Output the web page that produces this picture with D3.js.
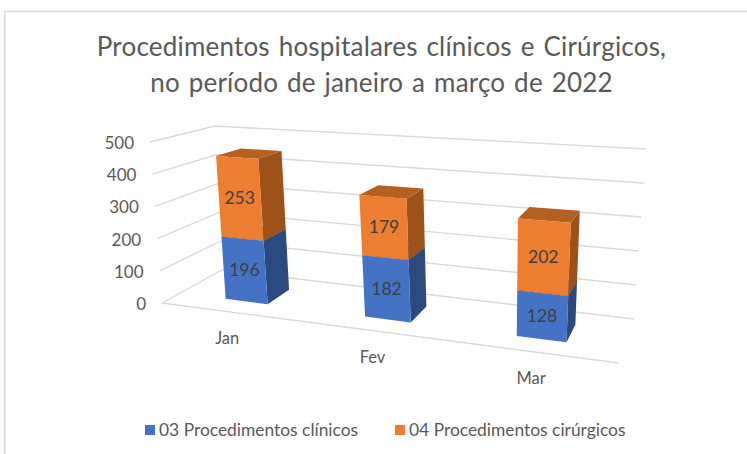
<!DOCTYPE html>
<html><head><meta charset="utf-8">
<script src="https://cdn.jsdelivr.net/npm/d3@7/dist/d3.min.js"></script>
<style>html,body{margin:0;padding:0;background:#fff}svg{display:block}text{font-family:Lato,"Open Sans",sans-serif}</style>
</head><body><svg id="c" width="747" height="454"></svg>
<script>
const titleLines = ["Procedimentos hospitalares clínicos e Cirúrgicos,", "no período de janeiro a março de 2022"];
const months = ["Jan", "Fev", "Mar"];
const clinicos = [196, 182, 128];
const cirurgicos = [253, 179, 202];
const yTicks = [0, 100, 200, 300, 400, 500];
const seriesNames = ["03 Procedimentos clínicos", "04 Procedimentos cirúrgicos"];
const fronts = ["#4472C4", "#ED7D31"], sides = ["#2B4A80", "#9C5219"], tops = ["#34588F", "#B55F20"];

// chart frame corners on screen: floor and top planes (front-left, front-right, back-right, back-left)
const floorQuad = [[162,303],[619,363],[634,319],[222,270]];
const topQuad   = [[150,142],[632,172],[646,149],[215,126]];
function homography(q){
  const [[x0,y0],[x1,y1],[x2,y2],[x3,y3]] = q;
  const dx1=x1-x2, dx2=x3-x2, sx=x0-x1+x2-x3, dy1=y1-y2, dy2=y3-y2, sy=y0-y1+y2-y3;
  const den=dx1*dy2-dx2*dy1, g=(sx*dy2-dx2*sy)/den, h=(dx1*sy-sx*dy1)/den;
  const a=x1-x0+g*x1,b=x3-x0+h*x3,d=y1-y0+g*y1,e=y3-y0+h*y3;
  return (u,z)=>{const w=g*u+h*z+1; return [(a*u+b*z+x0)/w,(d*u+e*z+y0)/w];};
}
const hFloor=homography(floorQuad), hTop=homography(topQuad);
const yScale=d3.scaleLinear().domain([0,500]).range([0,1]);
const xBand=d3.scaleBand().domain(months).range([0,1]).paddingInner(0.69).paddingOuter(0.345);
const zScale=d3.scaleLinear().domain([0,1]).range([0.28,0.69]);
function project(u,v,z){
  const a=hFloor(u,z), b=hTop(u,z), t=yScale(v);
  return [d3.interpolateNumber(a[0],b[0])(t), d3.interpolateNumber(a[1],b[1])(t)];
}
const svg=d3.select("#c");
svg.append("path").attr("d","M4.75,454V11.5H747").attr("fill","none").attr("stroke","#d9d9d9").attr("stroke-width",1.6);
svg.selectAll(".title").data(titleLines).join("text").attr("class","title")
  .attr("x",381.5).attr("y",(d,i)=>56+i*36).attr("text-anchor","middle")
  .attr("font-size",26).attr("letter-spacing",0.2).attr("word-spacing",2).attr("fill","#595959").text(d=>d);

const line=d3.line();
const grid=svg.append("g").attr("fill","none").attr("stroke","#D9D9D9").attr("stroke-width",1.4);
yTicks.forEach(t=>{
  grid.append("path").attr("d",line([project(0,t,0),project(0,t,1),project(1,t,1)]));
});
grid.append("path").attr("d",line([project(0,0,0),project(1,0,0)]));
svg.selectAll(".yt").data(yTicks).join("text").attr("class","yt")
  .attr("x",d=>project(0,d,0)[0]-16).attr("y",d=>project(0,d,0)[1]+7).attr("text-anchor","end")
  .attr("font-size",17).attr("fill","#595959").text(d=>d);
svg.selectAll(".xt").data(months).join("text").attr("class","xt")
  .attr("x",(d,i)=>project(xBand(d)+xBand.bandwidth()/2,0,0)[0]-3)
  .attr("y",(d,i)=>project(xBand(d)+xBand.bandwidth()/2,0,0)[1]+32).attr("text-anchor","middle")
  .attr("font-size",16.5).attr("fill","#595959").text(d=>d);

const bars=svg.append("g");
months.forEach((m,i)=>{
  const u0=xBand(m), u1=u0+xBand.bandwidth(), z0=zScale(0), z1=zScale(1);
  [[0,clinicos[i],0],[clinicos[i],clinicos[i]+cirurgicos[i],1]].forEach(([a,b,s])=>{
    const g=bars.append("g");
    const poly=(pts,c)=>g.append("polygon").attr("points",pts.map(p=>p.join(",")).join(" ")).attr("fill",c);
    poly([project(u1,a,z0),project(u1,a,z1),project(u1,b,z1),project(u1,b,z0)],sides[s]);
    poly([project(u0,b,z0),project(u1,b,z0),project(u1,b,z1),project(u0,b,z1)],tops[s]);
    poly([project(u0,a,z0),project(u1,a,z0),project(u1,b,z0),project(u0,b,z0)],fronts[s]);
    const c=project((u0+u1)/2,(a+b)/2,z0);
    g.append("text").attr("x",c[0]).attr("y",c[1]+6).attr("text-anchor","middle")
      .attr("font-size",17.5).attr("fill","#404040").text(b-a);
  });
});
const lx=[145,395];
seriesNames.forEach((n,i)=>{
  svg.append("rect").attr("x",lx[i]).attr("y",425).attr("width",10).attr("height",10).attr("fill",fronts[i]);
  svg.append("text").attr("x",lx[i]+14).attr("y",436).attr("font-size",17.4).attr("fill","#595959").text(n);
});
</script></body></html>
